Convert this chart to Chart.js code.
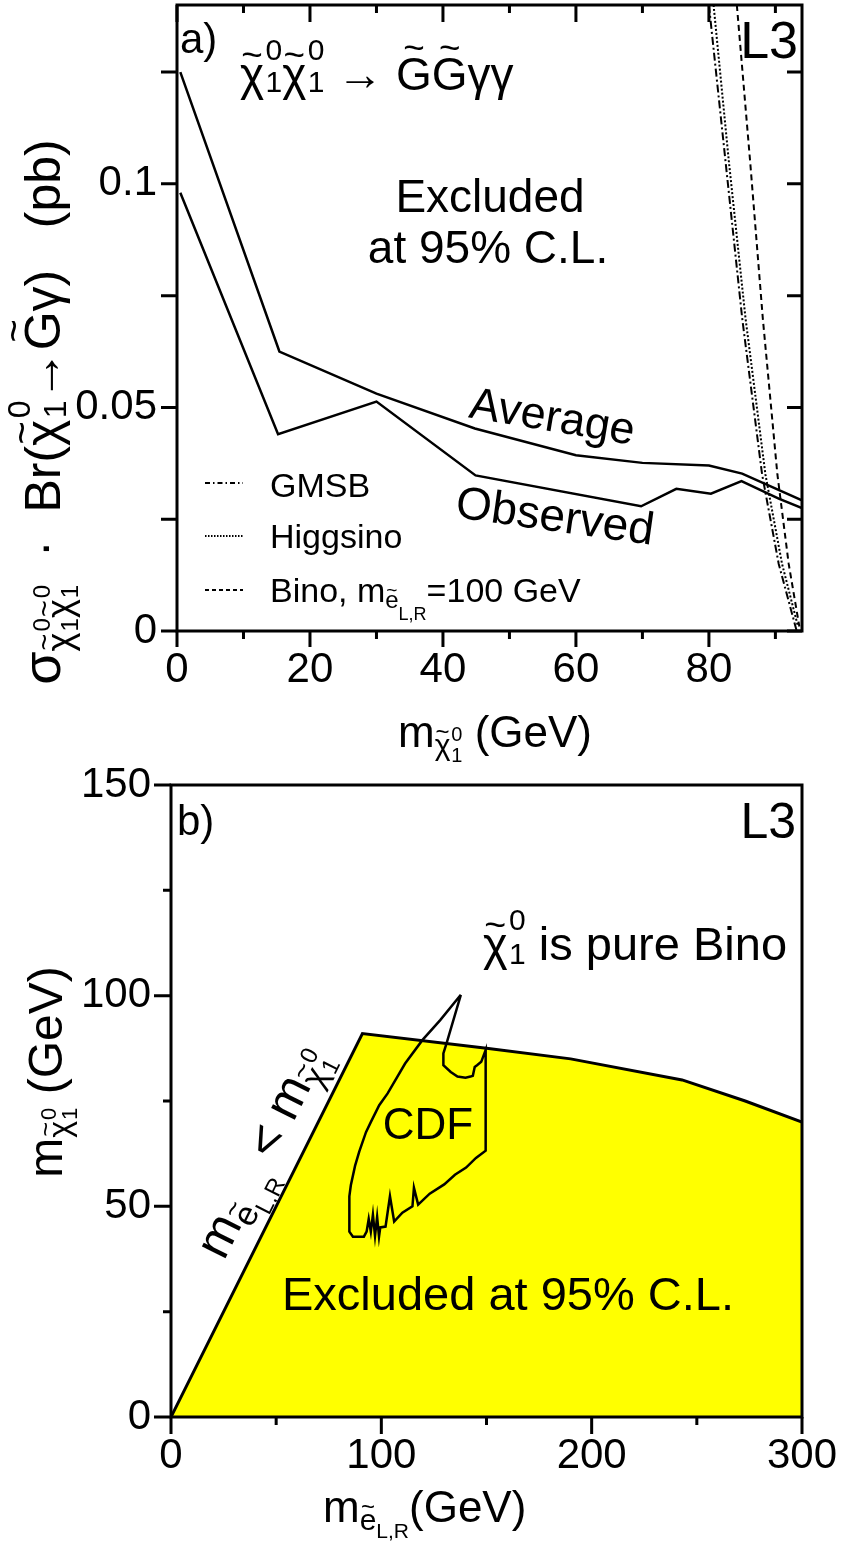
<!DOCTYPE html>
<html>
<head>
<meta charset="utf-8">
<script src="https://cdn.jsdelivr.net/npm/chart.js@4/dist/chart.umd.min.js"></script>
<style>
  html, body { margin: 0; padding: 0; background: #fff; }
  #wrap { position: relative; width: 843px; height: 1550px; }
  #top { position: absolute; left: 0; top: 0; }
  #bottom { position: absolute; left: 0; top: 760px; }
</style>
</head>
<body>
<div id="wrap">
  <canvas id="top" width="843" height="770"></canvas>
  <canvas id="bottom" width="843" height="790"></canvas>
</div>
<script>
// ---- panel a): 95% CL upper limits on sigma x Br (pb) vs neutralino mass (GeV)
const avgMass = [0.5, 15.4, 30, 44.8, 60, 70, 80, 85, 94];
const avgLimit = [0.125, 0.0625, 0.0531, 0.0453, 0.0393, 0.0376, 0.0370, 0.0352, 0.0292];
const obsMass = [0.5, 15.2, 30, 44.9, 69.8, 75.1, 80.3, 84.9, 90.5, 94];
const obsLimit = [0.098, 0.044, 0.0513, 0.0348, 0.0279, 0.0318, 0.0307, 0.0335, 0.0296, 0.0275];

// model predictions
const gmsbMass = [80.0, 82.5, 85.0, 88.0, 90.5, 93.2];
const gmsbXsec = [0.14, 0.105, 0.07, 0.035, 0.015, 0.0];
const higgsinoMass = [80.7, 83.0, 85.5, 88.5, 91.0, 93.4];
const higgsinoXsec = [0.14, 0.105, 0.07, 0.035, 0.015, 0.001];
const binoMass = [84.2, 86.2, 88.1, 90.3, 92.0, 93.6];
const binoXsec = [0.14, 0.105, 0.07, 0.035, 0.015, 0.001];

const topXTicks = [0, 20, 40, 60, 80];
const topXMinor = [10, 30, 50, 70, 90];
const topYTicks = [0, 0.05, 0.1];
const topYLabels = ['0', '0.05', '0.1'];
const topYMinor = [0.025, 0.075, 0.125];

// ---- panel b): excluded region in (selectron mass, neutralino mass)
const edgeSelectron = [0, 91, 150, 190, 243, 273, 300];
const edgeNeutralino = [0, 91, 87.5, 85, 80, 75, 70];

const cdfSelectron = [137.8, 128, 119.6, 111.3, 103, 99, 95, 92.7, 89.5, 87.5, 85.5, 84.8, 84.8, 86.5,
  91.7, 93, 94, 95, 96, 97, 98, 98.9, 99.5, 102, 104.1, 106.1, 110, 114.8, 115.5, 117.5, 123, 129.9,
  135, 140.3, 145, 149.6, 149.6, 147.5, 145.5, 144.4, 143.5, 142.4, 140, 136.2, 133, 129.5, 129.5, 131, 137.8];
const cdfNeutralino = [100.2, 94.2, 89.5, 83.9, 76.8, 74, 70, 67.6, 63, 59.6, 55, 52.4, 44, 42.8,
  42.8, 44, 47, 44, 48, 43, 47.5, 42.8, 45, 45.2, 52.4, 46.4, 48.5, 50, 54.4, 50.4, 53, 55.2,
  57.5, 59.2, 61.5, 63.2, 87.1, 84.3, 83.5, 83.1, 81, 80.8, 80.5, 80.8, 81.9, 83.5, 86.3, 88.7, 100.2];

const botXTicks = [0, 100, 200, 300];
const botXMinor = [50, 150, 250];
const botYTicks = [0, 50, 100, 150];
const botYMinor = [25, 75, 125];

const FONT = '"Liberation Sans", Arial, Helvetica, sans-serif';
const font = size => size + 'px ' + FONT;
const pts = (xs, ys) => xs.map((x, i) => ({ x, y: ys[i] }));

// text pieces: [text, size, dy], {sub, sup, size, up, down} or {tilde, size, dy, lift}
function partWidth(ctx, p) {
  if (Array.isArray(p)) { ctx.font = font(p[1]); return ctx.measureText(p[0]).width; }
  ctx.font = font(p.size);
  if (p.tilde) return ctx.measureText(p.tilde).width;
  return Math.max(ctx.measureText(p.sub).width, ctx.measureText(p.sup).width) + (p.gap || 0);
}

function drawRich(ctx, x, y, parts, align) {
  const total = parts.reduce((w, p) => w + partWidth(ctx, p), 0);
  let cx = align === 'center' ? x - total / 2 : align === 'right' ? x - total : x;
  ctx.textAlign = 'left';
  ctx.textBaseline = 'alphabetic';
  ctx.fillStyle = '#000';
  parts.forEach(p => {
    const w = partWidth(ctx, p);
    if (Array.isArray(p)) {
      ctx.fillText(p[0], cx, y + (p[2] || 0));
    } else if (p.tilde) {
      const by = y + (p.dy || 0);
      ctx.fillText(p.tilde, cx, by);
      ctx.font = font(p.size * 0.8);
      const tw = ctx.measureText('~').width;
      ctx.fillText('~', cx + (w - tw) / 2, by - p.lift * p.size);
    } else {
      ctx.fillText(p.sup, cx + (p.gap || 0), y + p.up);
      ctx.fillText(p.sub, cx + (p.gap || 0), y + p.down);
    }
    cx += w;
  });
}

function drawRotated(ctx, x, y, deg, parts, align) {
  ctx.save();
  ctx.translate(x, y);
  ctx.rotate(deg * Math.PI / 180);
  drawRich(ctx, 0, 0, parts, align);
  ctx.restore();
}

// frame plus major/minor tick marks on the chosen sides
function tickMarks(cfg) {
  return {
    id: 'tickMarks',
    afterDatasetsDraw(chart) {
      const { ctx, chartArea: a } = chart;
      const xs = chart.scales.x, ys = chart.scales.y;
      ctx.save();
      ctx.strokeStyle = '#000';
      ctx.setLineDash([]);
      ctx.lineWidth = 3;
      ctx.strokeRect(a.left, a.top, a.right - a.left, a.bottom - a.top);
      ctx.beginPath();
      [[cfg.xMajor, 0], [cfg.xMinor, 1]].forEach(([vals, k]) => vals.forEach(v => {
        const px = xs.getPixelForValue(v);
        ctx.moveTo(px, a.bottom); ctx.lineTo(px, a.bottom + cfg.bottom[k]);
        if (cfg.top) { ctx.moveTo(px, a.top); ctx.lineTo(px, a.top + cfg.top[k]); }
      }));
      [[cfg.yMajor, 0], [cfg.yMinor, 1]].forEach(([vals, k]) => vals.forEach(v => {
        const py = ys.getPixelForValue(v);
        ctx.moveTo(a.left, py); ctx.lineTo(a.left - cfg.left[k], py);
        if (cfg.right) { ctx.moveTo(a.right, py); ctx.lineTo(a.right - cfg.right[k], py); }
      }));
      ctx.stroke();
      ctx.restore();
    }
  };
}

function axis(min, max, values, labels, size, pad, fitFn) {
  return {
    type: 'linear',
    min, max,
    afterBuildTicks: s => { s.ticks = values.map(v => ({ value: v })); },
    ticks: {
      autoSkip: false, maxRotation: 0, includeBounds: false,
      color: '#000', padding: pad,
      font: { family: FONT, size },
      callback: (v, i) => labels[i]
    },
    grid: { display: false, drawTicks: false },
    border: { display: false },
    afterFit: fitFn
  };
}

// neutralino symbol: chi with tilde, subscript 1 and superscript 0
const chi = (big, small, up, down, dy) => [
  { tilde: 'χ', size: big, dy: dy || 0, lift: 0.5 },
  { sub: '1', sup: '0', size: small, up: up + (dy || 0), down: down + (dy || 0), gap: big * 0.03 }
];
const gTilde = size => ({ tilde: 'G', size, lift: 0.66 });

const line = (data, extra) => Object.assign({
  data, borderColor: '#000', borderWidth: 2.5, pointRadius: 0, fill: false, tension: 0
}, extra);

// ---------- panel a)
const topText = {
  id: 'topText',
  afterDraw(chart) {
    const ctx = chart.ctx;
    ctx.save();
    drawRich(ctx, 180, 53, [['a)', 42]]);
    drawRich(ctx, 240, 90, [...chi(46, 30, -30, 2), ...chi(46, 30, -30, 2), [' → ', 46], gTilde(46), gTilde(46), ['γγ', 46]]);
    drawRich(ctx, 798, 58, [['L3', 52]], 'right');
    drawRich(ctx, 490, 212, [['Excluded', 46]], 'center');
    drawRich(ctx, 488, 263, [['at 95% C.L.', 46]], 'center');
    drawRotated(ctx, 550, 431, 9.5, [['Average', 45]], 'center');
    drawRotated(ctx, 553, 531, 8, [['Observed', 46]], 'center');

    // legend
    ctx.strokeStyle = '#000';
    ctx.lineWidth = 2;
    [[483, [5, 3, 1.5, 3]], [536, [1.5, 1.5]], [590, [4, 3]]].forEach(([y, dash]) => {
      ctx.setLineDash(dash);
      ctx.beginPath(); ctx.moveTo(205, y); ctx.lineTo(243, y); ctx.stroke();
    });
    ctx.setLineDash([]);
    drawRich(ctx, 270, 497, [['GMSB', 34]]);
    drawRich(ctx, 270, 548, [['Higgsino', 34]]);
    drawRich(ctx, 270, 602, [['Bino, m', 34], { tilde: 'e', size: 24, dy: 6, lift: 0.5 }, ['L,R', 18, 18], ['=100 GeV', 34]]);

    // axis titles
    drawRich(ctx, 495, 747, [['m', 44], ...chi(30, 20, -14, 7, 8), [' (GeV)', 44]], 'center');
    drawRotated(ctx, 60, 412, -90, [
      ['σ', 54],
      ...chi(36, 24, -22, 6, 12), ...chi(36, 24, -22, 6, 12),
      ['  ·  Br(', 50], ...chi(50, 32, -30, 6), ['→', 50], gTilde(50), ['γ)', 50], ['   (pb)', 50]
    ], 'center');
    ctx.restore();
  }
};

new Chart(document.getElementById('top'), {
  type: 'line',
  data: {
    datasets: [
      line(pts(avgMass, avgLimit)),
      line(pts(obsMass, obsLimit)),
      line(pts(gmsbMass, gmsbXsec), { borderWidth: 2, borderDash: [8, 3, 2, 3] }),
      line(pts(higgsinoMass, higgsinoXsec), { borderWidth: 2, borderDash: [2, 2] }),
      line(pts(binoMass, binoXsec), { borderWidth: 2, borderDash: [6, 4] })
    ]
  },
  options: {
    responsive: false,
    animation: false,
    layout: { padding: { left: 0, right: 41, top: 5, bottom: 0 } },
    plugins: { legend: { display: false }, tooltip: { enabled: false } },
    scales: {
      x: axis(0, 94, topXTicks, topXTicks.map(String), 42, 14, s => {
        s.height = 139; s.paddingLeft = 0; s.paddingRight = 0;
      }),
      y: axis(0, 0.14, topYTicks, topYLabels, 42, 20, s => {
        s.width = 177; s.paddingTop = 0; s.paddingBottom = 0;
      })
    }
  },
  plugins: [tickMarks({
    xMajor: topXTicks, xMinor: topXMinor, yMajor: topYTicks, yMinor: topYMinor,
    bottom: [16, 8], top: [17, 8], left: [16, 16], right: [15, 15]
  }), topText]
});

// ---------- panel b)
const botText = {
  id: 'botText',
  afterDraw(chart) {
    const ctx = chart.ctx;
    const xs = chart.scales.x, ys = chart.scales.y;
    ctx.save();
    drawRich(ctx, 177, 75, [['b)', 42]]);
    drawRich(ctx, 796, 78, [['L3', 50]], 'right');
    drawRich(ctx, 483, 200, [...chi(47, 30, -30, 4), [' is pure Bino', 47]]);
    drawRich(ctx, 428, 379, [['CDF', 44]], 'center');
    drawRich(ctx, 282, 550, [['Excluded at 95% C.L.', 47]]);

    // label along the kinematic limit line
    const x0 = xs.getPixelForValue(edgeSelectron[0]), y0 = ys.getPixelForValue(edgeNeutralino[0]);
    const x1 = xs.getPixelForValue(edgeSelectron[1]), y1 = ys.getPixelForValue(edgeNeutralino[1]);
    const len = Math.hypot(x1 - x0, y1 - y0);
    const ux = (x1 - x0) / len, uy = (y1 - y0) / len;
    const ox = x0 + ux * 163 + uy * 22, oy = y0 + uy * 163 - ux * 22;
    drawRotated(ctx, ox, oy, Math.atan2(uy, ux) * 180 / Math.PI, [
      ['m', 50], { tilde: 'e', size: 34, dy: 10, lift: 0.5 }, ['L,R', 24, 20], [' < ', 50],
      ['m', 50], ...chi(34, 24, -18, 6, 10)
    ]);

    // axis titles
    drawRich(ctx, 323, 762, [['m', 44], { tilde: 'e', size: 30, dy: 8, lift: 0.5 }, ['L,R', 21, 16], ['(GeV)', 44]]);
    drawRotated(ctx, 62, 312, -90, [['m', 48], ...chi(32, 22, -14, 7, 8), [' (GeV)', 48]], 'center');
    ctx.restore();
  }
};

new Chart(document.getElementById('bottom'), {
  type: 'line',
  data: {
    datasets: [
      line(pts(cdfSelectron, cdfNeutralino), { order: 0 }),
      line(pts(edgeSelectron, edgeNeutralino), { order: 1, borderWidth: 3, fill: 'origin', backgroundColor: '#ffff00' })
    ]
  },
  options: {
    responsive: false,
    animation: false,
    layout: { padding: { left: 0, right: 41, top: 25, bottom: 0 } },
    plugins: { legend: { display: false }, tooltip: { enabled: false } },
    scales: {
      x: axis(0, 300, botXTicks, botXTicks.map(String), 42, 14, s => {
        s.height = 133; s.paddingLeft = 0; s.paddingRight = 0;
      }),
      y: axis(0, 150, botYTicks, botYTicks.map(String), 42, 20, s => {
        s.width = 171; s.paddingTop = 0; s.paddingBottom = 0;
      })
    }
  },
  plugins: [tickMarks({
    xMajor: botXTicks, xMinor: botXMinor, yMajor: botYTicks, yMinor: botYMinor,
    bottom: [17, 8], left: [17, 8]
  }), botText]
});
</script>
</body>
</html>
